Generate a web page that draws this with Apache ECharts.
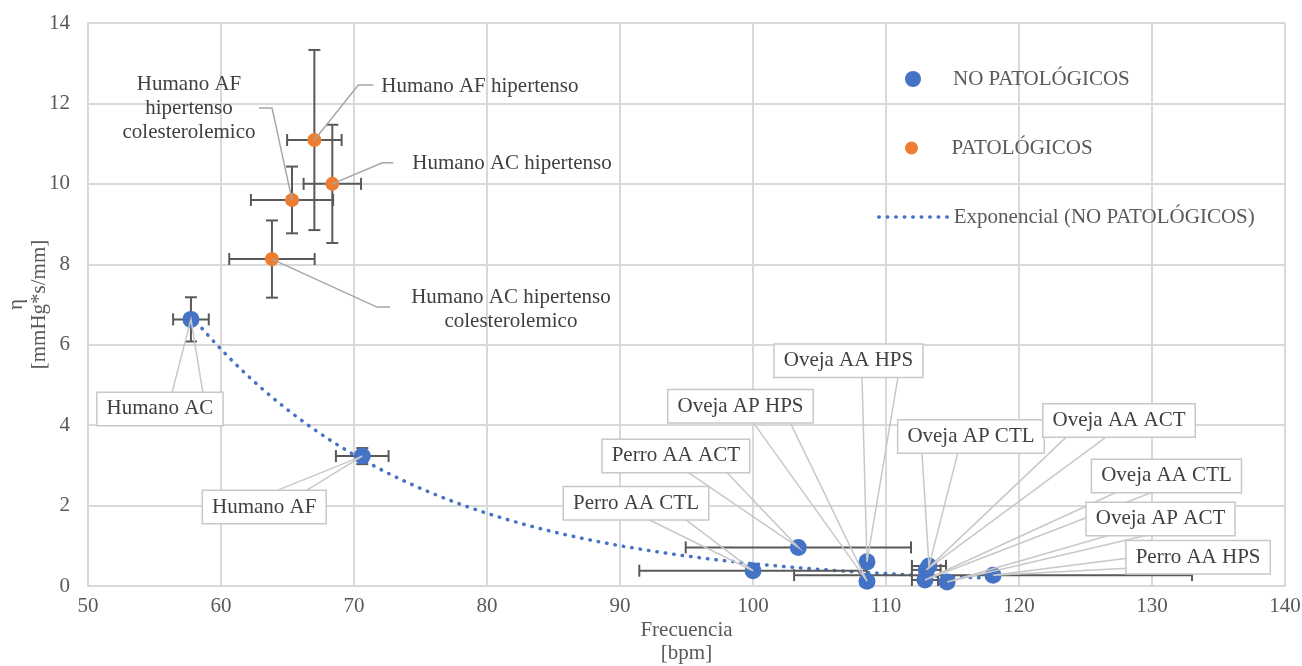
<!DOCTYPE html>
<html><head><meta charset="utf-8">
<script src="https://cdn.jsdelivr.net/npm/echarts@6/dist/echarts.min.js"></script>
<style>html,body{margin:0;padding:0;background:#fff}#c{width:1302px;height:666px}</style>
</head><body><div id="c"></div>
<script>
// ---- data ----
const blueNames = ['Humano AC','Humano AF','Perro AA CTL','Perro AA ACT','Oveja AP HPS','Oveja AA HPS','Oveja AP CTL','Oveja AA ACT','Oveja AA CTL','Oveja AP ACT','Perro AA HPS'];
const blueX    = [57.74, 70.62, 100.0, 103.41, 108.57, 108.57, 113.23, 113.03, 112.93, 114.59, 118.05];
const blueY    = [6.63, 3.23, 0.38, 0.96, 0.12, 0.60, 0.50, 0.40, 0.15, 0.10, 0.27];
const blueXErr = [1.34, 1.98, 8.55, 8.47, 0.4, 0.4, 1.28, 1.08, 0.98, 0.4, 14.96];
const blueYErr = [0.55, 0.2, 0.05, 0.05, 0.05, 0.05, 0.05, 0.05, 0.05, 0.05, 0.05];

const orangeNames = ['Humano AF hipertenso','Humano AC hipertenso','Humano AF\nhipertenso\ncolesterolemico','Humano AC hipertenso\ncolesterolemico'];
const orangeX    = [67.02, 68.37, 65.34, 63.83];
const orangeY    = [11.09, 10.0, 9.6, 8.13];
const orangeXErr = [2.05, 2.16, 3.09, 3.21];
const orangeYErr = [2.24, 1.47, 0.83, 0.96];

const legendNames = ['NO PATOLÓGICOS','PATOLÓGICOS','Exponencial (NO PATOLÓGICOS)'];
const xAxisTitle = 'Frecuencia\n[bpm]';
const yAxisTitle = 'η\n[mmHg*s/mm]';

// ---- label layout (pixel offsets from each point) ----
const blueCallouts = [
  {dx:-31,  dy:89.5,  side:'top',    b1:12,    b2:43},
  {dx:-98,  dy:51,    side:'top',    b1:11,    b2:41},
  {dx:-117, dy:-67.5, side:'bottom', b1:12,    b2:49},
  {dx:-122.5,dy:-91.5,side:'bottom', b1:11.5,  b2:50.5},
  {dx:-126.5,dy:-175, side:'bottom', b1:12.5,  b2:49.5},
  {dx:-18.5,dy:-201,  side:'bottom', b1:13.5,  b2:49.5},
  {dx:42,   dy:-129.5,side:'bottom', b1:-49,   b2:-13},
  {dx:192.7,dy:-149.5,side:'bottom', b1:-52,   b2:-12},
  {dx:241.5,dy:-104,  side:'bottom', b1:-49.5, b2:-13.5},
  {dx:213.5,dy:-63,   side:'bottom', b1:-50.5, b2:-12.5},
  {dx:205,  dy:-18,   side:'left',   b1:1,     b2:11, w:142}
];
const orangeLeaders = [
  {ex:44,  ey:-55, fx:59,  fy:-55, tx:67,  ty:-54, align:'left'},
  {ex:50,  ey:-21, fx:61,  fy:-21, tx:80,  ty:-20, align:'left'},
  {ex:-20, ey:-92, fx:-33, fy:-92, tx:-103,ty:-91, align:'center'},
  {ex:105, ey:48,  fx:118, fy:48,  tx:239, ty:50.5,align:'center'}
];

const FONT = '"Liberation Serif","Times New Roman",serif';
const BLUE = '#4472C4', ORANGE = '#ED7D31';

// Excel-style exponential trendline: least squares on ln(y)
function expFit(xs, ys) {
  const n = xs.length;
  const ly = ys.map(v => Math.log(v));
  const mx = xs.reduce((a,b)=>a+b,0)/n, my = ly.reduce((a,b)=>a+b,0)/n;
  let sxy = 0, sxx = 0;
  for (let i=0;i<n;i++){ sxy += (xs[i]-mx)*(ly[i]-my); sxx += (xs[i]-mx)*(xs[i]-mx); }
  const b = sxy/sxx; const a = Math.exp(my - b*mx);
  return {a, b};
}
const fit = expFit(blueX, blueY);
const tMin = Math.min(...blueX), tMax = Math.max(...blueX);
const trend = [];
for (let i=0;i<=240;i++){ const x = tMin + (tMax-tMin)*i/240; trend.push([x, fit.a*Math.exp(fit.b*x)]); }

function errSeries(xs, ys, xe, ye, z) {
  return {
    type:'custom', name:'err', z:z, silent:true, clip:false,
    encode:{x:0, y:1},
    data: xs.map((x,i)=>[x, ys[i], xe[i], ye[i]]),
    renderItem(params, api) {
      const x = api.value(0), y = api.value(1), ex = api.value(2), ey = api.value(3);
      const l = api.coord([x-ex, y]), r = api.coord([x+ex, y]);
      const t = api.coord([x, y+ey]), b = api.coord([x, y-ey]);
      const st = {stroke:'#595959', lineWidth:2, fill:null};
      const cap = 6;
      const ln = (x1,y1,x2,y2)=>({type:'line', shape:{x1,y1,x2,y2}, style:st});
      return {type:'group', children:[
        ln(l[0],l[1],r[0],r[1]),
        ln(t[0],t[1],b[0],b[1]),
        ln(l[0],l[1]-cap,l[0],l[1]+cap),
        ln(r[0],r[1]-cap,r[0],r[1]+cap),
        ln(t[0]-cap,t[1],t[0]+cap,t[1]),
        ln(b[0]-cap,b[1],b[0]+cap,b[1])
      ]};
    }
  };
}

const chart = echarts.init(document.getElementById('c'), null, {renderer:'canvas'});
const legendText = {fontFamily:FONT, fontSize:21, color:'#595959', lineHeight:22};
const trendLine = {color:BLUE, width:3.5, type:[0.5,8], cap:'round'};
chart.setOption({
  animation:false,
  backgroundColor:'#fff',
  grid:{left:88, right:17, top:23, bottom:80, containLabel:false, outerBoundsMode:'none'},
  xAxis:{
    type:'value', min:50, max:140, interval:10,
    name:xAxisTitle, nameLocation:'middle', nameGap:33, nameMoveOverlap:false,
    nameTextStyle:{fontFamily:FONT, fontSize:21, color:'#595959', lineHeight:23},
    axisLine:{show:true, lineStyle:{color:'#d9d9d9', width:2}},
    axisTick:{show:false},
    axisLabel:{margin:10, fontFamily:FONT, fontSize:21, color:'#595959'},
    splitLine:{show:true, lineStyle:{color:'#d9d9d9', width:2}}
  },
  yAxis:{
    type:'value', min:0, max:14, interval:2,
    name:yAxisTitle, nameLocation:'middle', nameGap:37, nameRotate:90, nameMoveOverlap:false,
    nameTextStyle:{fontFamily:FONT, fontSize:21, color:'#595959', lineHeight:23},
    axisLine:{show:true, lineStyle:{color:'#d9d9d9', width:2}},
    axisTick:{show:false},
    axisLabel:{margin:18, fontFamily:FONT, fontSize:21, color:'#595959'},
    splitLine:{show:true, lineStyle:{color:'#d9d9d9', width:2}}
  },
  legend:[
    {data:[legendNames[0]], orient:'vertical', left:905, top:68, padding:0, itemWidth:70, itemHeight:16, itemGap:0, itemStyle:{borderWidth:0}, textStyle:legendText, selectedMode:false},
    {data:[legendNames[1]], orient:'vertical', left:905, top:137, padding:0, itemWidth:70, itemHeight:13, itemGap:0, itemStyle:{borderWidth:0}, textStyle:legendText, selectedMode:false},
    {data:[legendNames[2]], orient:'vertical', left:877, top:206, padding:0, itemWidth:70, itemHeight:16, itemGap:0, itemStyle:{opacity:0}, lineStyle:trendLine, textStyle:legendText, selectedMode:false}
  ],
  series:[
    {
      type:'line', name:legendNames[2], data:trend, symbol:'none', showSymbol:false, z:1, silent:true,
      lineStyle:trendLine,
      itemStyle:{color:BLUE}
    },
    errSeries(blueX, blueY, blueXErr, blueYErr, 2),
    errSeries(orangeX, orangeY, orangeXErr, orangeYErr, 2),
    {
      type:'scatter', name:legendNames[0], z:3, symbol:'circle', symbolSize:17,
      itemStyle:{color:BLUE, opacity:1},
      data: blueX.map((x,i)=>[x, blueY[i]])
    },
    {
      type:'scatter', name:legendNames[1], z:3, symbol:'circle', symbolSize:14,
      itemStyle:{color:ORANGE, opacity:1},
      data: orangeX.map((x,i)=>[x, orangeY[i]])
    },
    {
      type:'custom', name:'blueLabels', z:5, silent:true, clip:false,
      encode:{x:0, y:1},
      data: blueX.map((x,i)=>[x, blueY[i]]),
      renderItem(params, api) {
        const i = params.dataIndex;
        const p = api.coord([api.value(0), api.value(1)]);
        const L = blueCallouts[i];
        const cx = p[0]+L.dx, cy = p[1]+L.dy;
        let b1, b2;
        if (L.side === 'top') { b1=[cx+L.b1, cy-16]; b2=[cx+L.b2, cy-16]; }
        else if (L.side === 'bottom') { b1=[cx+L.b1, cy+16]; b2=[cx+L.b2, cy+16]; }
        else { b1=[cx-L.w/2, cy+L.b1]; b2=[cx-L.w/2, cy+L.b2]; }
        return {type:'group', children:[
          {type:'polyline', shape:{points:[b1, p, b2]}, style:{stroke:'#c8c8c8', lineWidth:1.5, fill:null}},
          {type:'text', x:cx, y:cy, style:{
            text:blueNames[i], align:'center', verticalAlign:'middle',
            font:'21px '+FONT, fill:'#404040', lineHeight:24,
            backgroundColor:'#ffffff', borderColor:'#c8c8c8', borderWidth:1.5, padding:[4,9]
          }}
        ]};
      }
    },
    {
      type:'custom', name:'orangeLabels', z:5, silent:true, clip:false,
      encode:{x:0, y:1},
      data: orangeX.map((x,i)=>[x, orangeY[i]]),
      renderItem(params, api) {
        const i = params.dataIndex;
        const p = api.coord([api.value(0), api.value(1)]);
        const L = orangeLeaders[i];
        return {type:'group', children:[
          {type:'polyline', shape:{points:[p, [p[0]+L.ex, p[1]+L.ey], [p[0]+L.fx, p[1]+L.fy]]}, style:{stroke:'#a6a6a6', lineWidth:1.5, fill:null}},
          {type:'text', x:p[0]+L.tx, y:p[1]+L.ty, style:{
            text:orangeNames[i], align:L.align, verticalAlign:'middle',
            font:'21px '+FONT, fill:'#404040', lineHeight:24
          }}
        ]};
      }
    }
  ]
});
</script>
</body></html>
